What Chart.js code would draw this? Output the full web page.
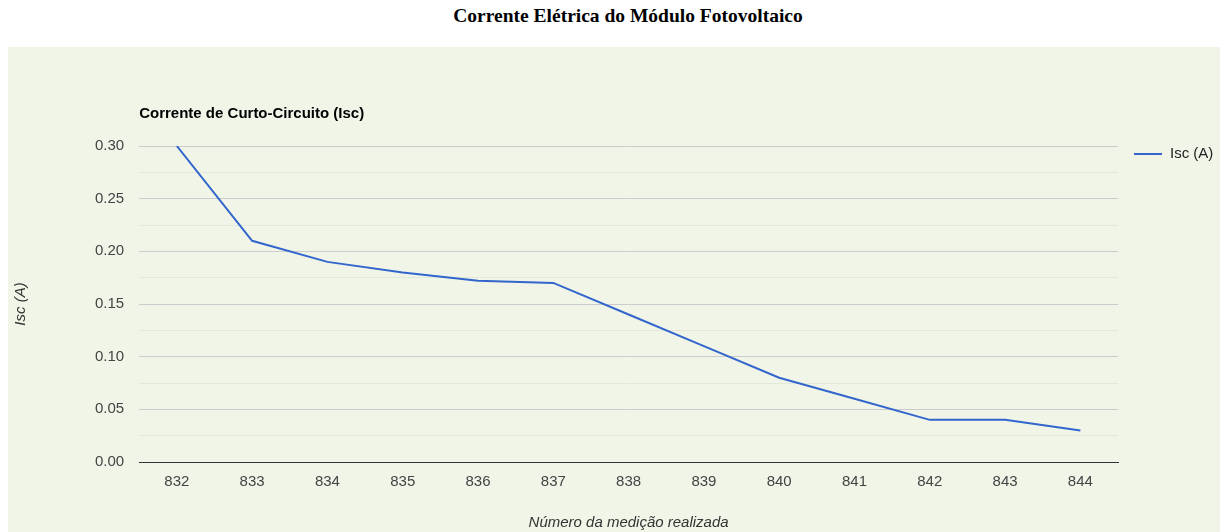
<!DOCTYPE html>
<html lang="pt">
<head>
<meta charset="utf-8">
<title>Corrente Elétrica do Módulo Fotovoltaico</title>
<script src="https://cdn.jsdelivr.net/npm/chart.js@4.4.1/dist/chart.umd.min.js"></script>
<style>
  html, body { margin: 0; padding: 0; background: #fff; }
  body { width: 1220px; height: 532px; position: relative; overflow: hidden; font-family: Arial, "Liberation Sans", sans-serif; }
  h1 {
    position: absolute; left: 18px; top: 5px; width: 1220px; margin: 0;
    text-align: center; font: bold 19.5px "Times New Roman", "Liberation Serif", serif; color: #000;
  }
  #panel { position: absolute; left: 8px; top: 47px; width: 1212px; height: 485px; background: #f0f5e8; }
  #legend { position: absolute; left: 1134px; top: 144px; font-size: 15px; color: #222; white-space: nowrap; }
  #legend .swatch { display: inline-block; width: 28px; height: 2px; background: #3366cc; vertical-align: middle; margin-right: 8px; }
</style>
</head>
<body>
<h1>Corrente Elétrica do Módulo Fotovoltaico</h1>
<div id="panel"><canvas id="iscChart" width="1212" height="485"></canvas></div>
<div id="legend"><span class="swatch"></span>Isc (A)</div>

<script>
// medições e corrente de curto-circuito
const medicoes = ['832', '833', '834', '835', '836', '837', '838', '839', '840', '841', '842', '843', '844'];
const isc = [0.30, 0.21, 0.19, 0.18, 0.172, 0.17, 0.14, 0.11, 0.08, 0.06, 0.04, 0.04, 0.03];
const yTicks = [0, 0.05, 0.10, 0.15, 0.20, 0.25, 0.30];

const font = { family: 'Arial, "Liberation Sans", sans-serif', size: 15 };
const isMajor = v => yTicks.some(t => Math.abs(t - v) < 1e-6);

new Chart(document.getElementById('iscChart'), {
  type: 'line',
  data: {
    labels: medicoes,
    datasets: [{
      label: 'Isc (A)',
      data: isc,
      borderColor: '#3366cc',
      backgroundColor: '#3366cc',
      borderWidth: 2,
      pointRadius: 0,
      tension: 0,
      fill: false
    }]
  },
  options: {
    responsive: false,
    animation: false,
    layout: { padding: { left: 0, right: 102, top: 0, bottom: 0 } },
    plugins: {
      legend: { display: false },
      tooltip: { enabled: false },
      title: {
        display: true,
        text: 'Corrente de Curto-Circuito (Isc)',
        align: 'start',
        fullSize: false,
        color: '#000',
        font: { ...font, weight: 'bold' },
        padding: { top: 58, bottom: 23 }
      }
    },
    scales: {
      x: {
        offset: true,
        grid: { display: false, drawTicks: false },
        border: { display: true, color: '#333', width: 1 },
        ticks: { color: '#444', font, padding: 11, maxRotation: 0 },
        title: {
          display: true,
          text: 'Número da medição realizada',
          color: '#333',
          font: { ...font, style: 'italic' },
          padding: { top: 12, bottom: 0 }
        }
      },
      y: {
        min: 0,
        max: 0.30,
        border: { display: false },
        grid: {
          drawTicks: false,
          color: ctx => isMajor(ctx.tick.value) ? '#cccccc' : '#e3e8dc'
        },
        ticks: {
          stepSize: 0.025,
          color: '#444',
          font,
          padding: 15,
          callback: v => isMajor(v) ? v.toFixed(2) : ''
        },
        title: {
          display: true,
          text: 'Isc (A)',
          color: '#333',
          font: { ...font, style: 'italic' },
          padding: { top: 4, bottom: 50 }
        }
      }
    }
  }
});
</script>
</body>
</html>
